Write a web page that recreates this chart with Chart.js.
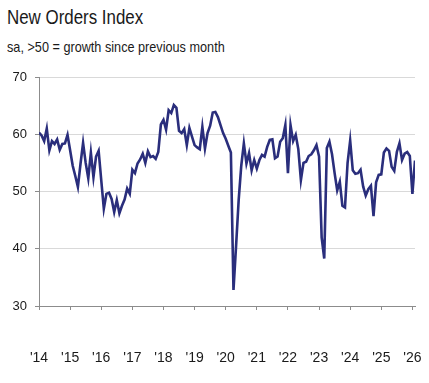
<!DOCTYPE html>
<html>
<head>
<meta charset="utf-8">
<script src="https://cdn.jsdelivr.net/npm/chart.js@4.4.1/dist/chart.umd.min.js"></script>
<style>
    body { margin: 0; background: #fff; }
    #wrap { position: relative; width: 429px; height: 383px; overflow: hidden; }
    #title, #subtitle {
        position: absolute;
        left: 7px;
        color: #1a1a1a;
        font-family: 'Liberation Sans', Arial, sans-serif;
        white-space: nowrap;
        transform-origin: left top;
        transform: scaleX(0.845);
    }
    #title { top: 6px; font-size: 20px; }
    #subtitle { top: 38px; font-size: 15px; }
    canvas { position: absolute; left: 0; top: 0; }
</style>
</head>
<body>
<div id="wrap">
    <div id="title">New Orders Index</div>
    <div id="subtitle">sa, &gt;50 = growth since previous month</div>
    <canvas id="ordersChart" width="429" height="383"></canvas>
</div>
<script>
// Monthly index, Jan 2014 onwards
const newOrders = [
    60.3, 59.8, 58.8, 61.0, 57.2, 58.8, 58.3, 59.1, 57.3, 58.3, 58.4, 59.9, // 2014
    57.2, 54.5, 52.7, 50.8, 54.8, 58.5, 55.0, 52.3, 56.8, 52.5, 56.1, 57.1, // 2015
    52.0, 47.0, 49.6, 49.8, 48.7, 46.4, 48.5, 46.2, 47.5, 48.6, 50.5, 49.6, // 2016
    53.8, 53.2, 54.9, 55.6, 56.6, 55.0, 57.0, 56.0, 56.2, 55.7, 56.9, 61.7, // 2017
    62.5, 60.8, 64.2, 63.7, 65.1, 64.6, 60.6, 60.2, 60.9, 58.1, 61.1, 59.6, // 2018
    58.1, 57.7, 57.4, 61.3, 57.5, 60.2, 61.5, 63.8, 63.9, 63.0, 61.6, 60.2, // 2019
    59.2, 58.0, 56.8, 32.8, 40.5, 48.5, 54.5, 58.4, 54.9, 56.7, 53.7, 55.5, // 2020
    54.0, 55.5, 56.4, 56.1, 57.8, 59.0, 59.1, 55.8, 56.1, 58.7, 59.3, 61.6, // 2021
    53.2, 61.6, 58.8, 59.9, 57.4, 52.0, 55.0, 55.2, 56.2, 56.5, 57.2, 58.1, // 2022
    56.1, 42.0, 38.3, 57.6, 58.7, 56.5, 53.2, 50.2, 51.7, 47.5, 47.2, 55.0, // 2023
    58.9, 53.7, 53.1, 53.2, 53.8, 50.9, 49.3, 50.4, 51.0, 45.7, 51.6, 52.9, // 2024
    53.0, 56.8, 57.5, 57.1, 54.3, 53.6, 56.9, 58.4, 55.5, 56.6, 56.9, 56.2, // 2025
    49.6, 55.4                                                              // 2026
];

const yearLabels = ["'14", "'15", "'16", "'17", "'18", "'19", "'20", "'21", "'22", "'23", "'24", "'25", "'26"];
const yTicks = [30, 40, 50, 60, 70];

const fontFamily = "'Liberation Sans', Arial, sans-serif";

const ctx = document.getElementById('ordersChart').getContext('2d');
new Chart(ctx, {
    type: 'line',
    data: {
        datasets: [{
            data: newOrders.map((v, i) => ({ x: i, y: v })),
            borderColor: '#2a2e7c',
            borderWidth: 2.6,
            pointRadius: 0,
            tension: 0,
            fill: false
        }]
    },
    options: {
        responsive: false,
        animation: false,
        layout: { padding: { top: 77, right: 14, left: 0, bottom: 0 } },
        plugins: {
            legend: { display: false },
            tooltip: { enabled: false }
        },
        scales: {
            x: {
                type: 'linear',
                min: 0,
                max: newOrders.length - 1,
                afterBuildTicks: (scale) => {
                    scale.ticks = yearLabels.map((_, k) => ({ value: k * 12 }));
                },
                afterFit: (scale) => {
                    scale.height = 77;
                    // big label gap below the axis shouldn't squeeze the plot sideways
                    scale.paddingLeft = 12;
                    scale.paddingRight = 12;
                },
                ticks: {
                    color: '#1a1a1a',
                    font: { family: fontFamily, size: 14 },
                    padding: 40,
                    maxRotation: 0,
                    autoSkip: false,
                    callback: (v) => yearLabels[Math.round(v / 12)]
                },
                grid: {
                    drawOnChartArea: false,
                    drawTicks: true,
                    tickLength: 4,
                    tickColor: '#8c8c8c'
                },
                border: { color: '#8c8c8c', width: 1 }
            },
            y: {
                min: yTicks[0],
                max: yTicks[yTicks.length - 1],
                afterBuildTicks: (scale) => {
                    scale.ticks = yTicks.map(v => ({ value: v }));
                },
                afterFit: (scale) => { scale.width = 39; },
                ticks: {
                    color: '#1a1a1a',
                    font: { family: fontFamily, size: 13 },
                    padding: 8
                },
                grid: {
                    color: '#d9d9d9',
                    lineWidth: 1,
                    tickLength: 4,
                    tickColor: '#8c8c8c'
                },
                border: { color: '#8c8c8c', width: 1 }
            }
        }
    }
});
</script>
</body>
</html>
